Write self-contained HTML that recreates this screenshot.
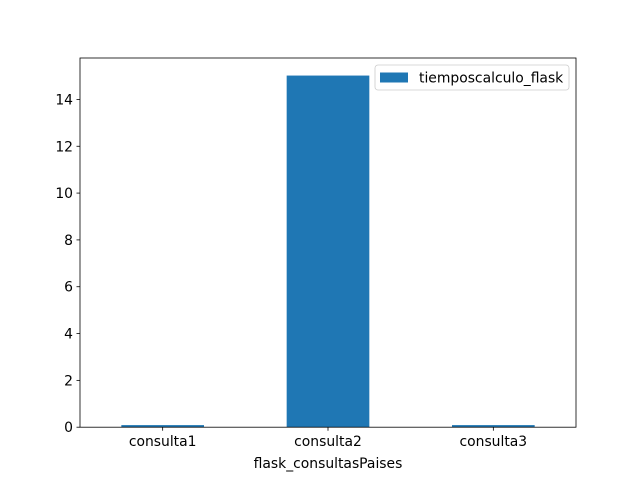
<!DOCTYPE html>
<html><head><meta charset="utf-8"><style>
body{margin:0;background:#fff;font-family:"DejaVu Sans","Liberation Sans",sans-serif;}
text{font-family:"DejaVu Sans","Liberation Sans",sans-serif;font-size:13.9px;fill:#000;}
</style></head><body>
<svg id="chart" width="640" height="480"></svg>
<script>
const categories=["consulta1","consulta2","consulta3"];
const values=[0.09,15.02,0.09];
const yTicks=[0,2,4,6,8,10,12,14];
const seriesName="tiemposcalculo_flask";
const NS="http://www.w3.org/2000/svg";
const svg=document.getElementById('chart');
const L=80,R=576,T=58,B=427.2,yMax=15.77;
const xs=i=>L+(i+0.5)*(R-L)/categories.length;
const ys=v=>B-v/yMax*(B-T);
function mk(t,a,p){const e=document.createElementNS(NS,t);for(const k in a)e.setAttribute(k,a[k]);(p||svg).appendChild(e);return e;}
const bw=0.5*(R-L)/categories.length;
values.forEach((v,i)=>{
 const r=mk('rect',{x:xs(i)-bw/2,y:ys(v),width:bw,height:B-ys(v),fill:'#1f77b4'});
 
 
});
yTicks.forEach(t=>{
 const y=ys(t);
 mk('line',{x1:L-3.5,x2:L,y1:y,y2:y,stroke:'#000','stroke-width':0.8});
 const tx=mk('text',{x:L-7,y:y+5,'text-anchor':'end'});tx.textContent=t;
 
 
});
categories.forEach((c,i)=>{
 const x=xs(i);
 mk('line',{x1:x,x2:x,y1:B,y2:B+3.5,stroke:'#000','stroke-width':0.8});
 const tx=mk('text',{x:x,y:B+19,'text-anchor':'middle'});tx.textContent=c;
 
 
});
const fr=mk('rect',{x:L,y:T,width:R-L,height:B-T,fill:'none',stroke:'#000','stroke-width':0.8});


const xl=mk('text',{x:(L+R)/2,y:468,'text-anchor':'middle'});xl.textContent='flask_consultasPaises';


const lg=mk('g',{});


mk('rect',{x:375,y:65,width:194,height:25,rx:3,fill:'#fff',stroke:'#ccc','stroke-width':0.8},lg);
mk('rect',{x:380,y:72.5,width:28,height:10,fill:'#1f77b4'},lg);
const lt=mk('text',{x:419,y:82.5},lg);lt.textContent=seriesName;
</script>
</body></html>
